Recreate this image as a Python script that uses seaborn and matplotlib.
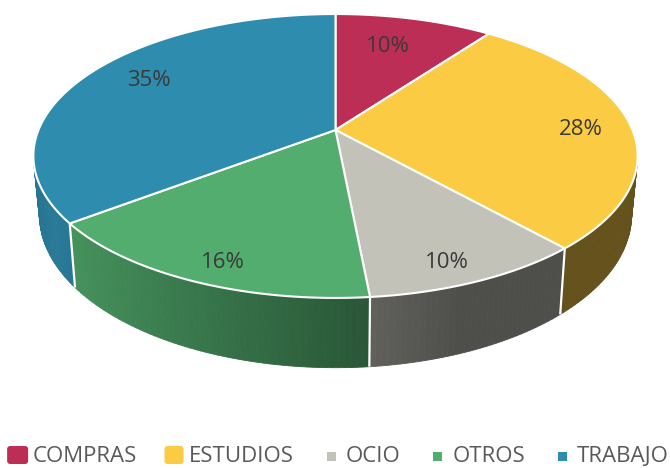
import numpy as np
import matplotlib
matplotlib.use("Agg")
import matplotlib.pyplot as plt
import seaborn as sns
from matplotlib.patches import Polygon, FancyBboxPatch, Rectangle
from matplotlib.collections import PolyCollection
from matplotlib.colors import to_rgb

# ---- data ----
categories = ["COMPRAS", "ESTUDIOS", "OCIO", "OTROS", "TRABAJO"]
values = [10, 28, 10, 16, 35]
labels = ["10%", "28%", "10%", "16%", "35%"]
colors = ["#BC2E55", "#FBCB43", "#C3C2B9", "#52AD6E", "#2E8CAE"]

sns.set_theme(style="white")
plt.rcParams["font.family"] = ["Open Sans", "DejaVu Sans"]

W, H = 670, 468
fig = plt.figure(figsize=(W / 100, H / 100), dpi=100)
ax = fig.add_axes([0, 0, 1, 1])
ax.set_xlim(0, W)
ax.set_ylim(H, 0)
ax.axis("off")

# ---- tilted-disc projection (simple perspective) ----
CX, CY = 335.5, 130.0      # screen position of the pie centre
A, B, K = 297.0, 137.2, 0.183
DEPTH = 57.0               # thickness of the pie
SHRINK = 0.98


def top(x, z):
    w = 1 + K * z
    return CX + A * x / w, CY - B * z / w


def bottom(x, z):
    X, Y = top(x, z)
    w = 1 + K * z
    return CX + (X - CX) * SHRINK, Y + DEPTH / w


def shade(x):
    return np.interp(x, [-1.0, -0.86, 0.35, 1.0], [0.82, 0.87, 0.40, 0.40])


vals = np.asarray(values, dtype=float)
frac = vals / vals.sum()
edges = np.concatenate([[0.0], np.cumsum(frac)]) * 2 * np.pi

# ---- side walls ----
quads, qcols, qdepth = [], [], []
for i in range(len(vals)):
    t0, t1 = edges[i], edges[i + 1]
    n = max(4, int(np.degrees(t1 - t0)))
    ts = np.linspace(t0, t1, n + 1)
    base = np.array(to_rgb(colors[i]))
    for a, b in zip(ts[:-1], ts[1:]):
        xa, za = np.sin(a), np.cos(a)
        xb, zb = np.sin(b), np.cos(b)
        quads.append([top(xa, za), top(xb, zb), bottom(xb, zb), bottom(xa, za)])
        c = np.clip(base * shade((xa + xb) / 2), 0, 1)
        qcols.append(c)
        qdepth.append((za + zb) / 2)
order = np.argsort(qdepth)[::-1]
pc = PolyCollection([quads[j] for j in order],
                    facecolors=[qcols[j] for j in order],
                    edgecolors=[qcols[j] for j in order], linewidths=0.6)
ax.add_collection(pc)

# white seams on the visible front wall
for t in edges[1:-1]:
    x, z = np.sin(t), np.cos(t)
    if z < 0.05:
        p0, p1 = top(x, z), bottom(x, z)
        ax.plot([p0[0], p1[0]], [p0[1], p1[1]], color="white", lw=1.6,
                solid_capstyle="butt", zorder=2)

# ---- top faces ----
for i in range(len(vals)):
    t0, t1 = edges[i], edges[i + 1]
    ts = np.linspace(t0, t1, max(4, int(np.degrees(t1 - t0)) * 2))
    pts = [top(0, 0)] + [top(np.sin(t), np.cos(t)) for t in ts]
    ax.add_patch(Polygon(pts, closed=True, facecolor=colors[i],
                         edgecolor="white", lw=1.5, joinstyle="round", zorder=3))

# ---- data labels: (radius, angular nudge in degrees) on the top face ----
LABEL_POS = [(0.73, -2.5), (0.83, 1.2), (0.87, 2.1), (0.87, -1.8), (0.79, 4.8)]
LBL_FS = 16
cap = LBL_FS * 100 / 72 * 0.714
for i in range(len(vals)):
    r, nudge = LABEL_POS[i]
    tm = (edges[i] + edges[i + 1]) / 2 + np.radians(nudge)
    X, Y = top(r * np.sin(tm), r * np.cos(tm))
    ax.text(X, Y + cap / 2, labels[i], fontsize=LBL_FS, color="#3a3a3a",
            ha="center", va="baseline", zorder=5)

# ---- legend ----
LEG_BASE = 462.5
LEG_FS = 16
SLOT, GAP, SPACING = 21, 4, 27
MARK = [(21, 18, True), (19, 18, True), (9, 9, False), (9, 9, False), (9, 9, False)]
renderer = fig.canvas.get_renderer()
texts, widths = [], []
for cat in categories:
    t = ax.text(0, LEG_BASE, cat, fontsize=LEG_FS, color="#595959",
                ha="left", va="baseline", zorder=5)
    widths.append(t.get_window_extent(renderer).width)
    texts.append(t)
total = sum(SLOT + GAP + w for w in widths) + SPACING * (len(categories) - 1)
x = 338 - total / 2
mid = LEG_BASE - 7.5
for i, t in enumerate(texts):
    mw, mh, rounded = MARK[i]
    mx = x + (SLOT - mw) / 2
    my = mid - mh / 2 if rounded else mid + 1 - mh / 2
    if rounded:
        ax.add_patch(FancyBboxPatch((mx, my), mw, mh,
                                    boxstyle="round,pad=0,rounding_size=3",
                                    facecolor=colors[i], edgecolor="none", zorder=5))
    else:
        ax.add_patch(Rectangle((mx, my), mw, mh, facecolor=colors[i],
                               edgecolor="none", zorder=5))
    t.set_x(x + SLOT + GAP)
    x += SLOT + GAP + widths[i] + SPACING

fig.savefig("out.png", dpi=100, facecolor="white")
